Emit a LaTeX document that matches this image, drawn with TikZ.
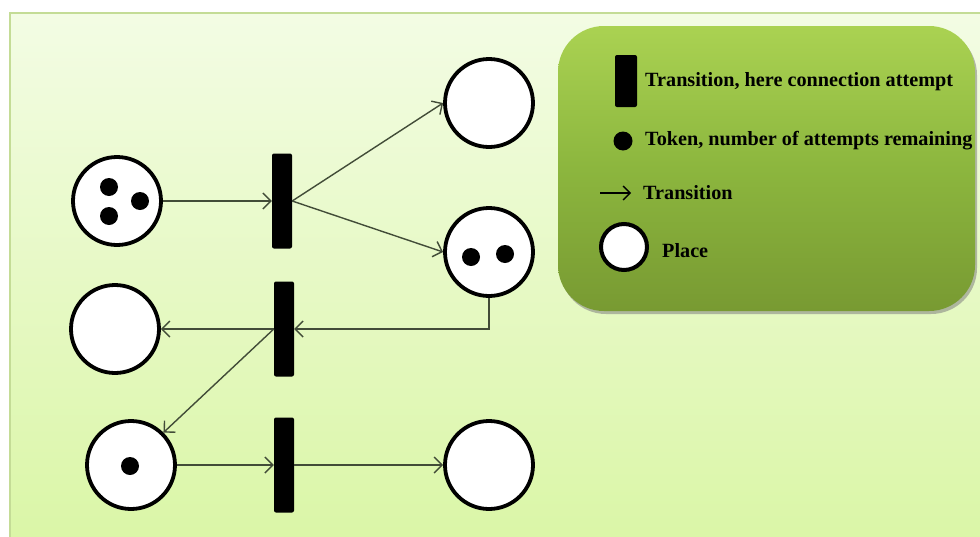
\documentclass[tikz,border=0pt]{standalone}
\usepackage{fontspec}
\setmainfont{Liberation Serif}
\usetikzlibrary{arrows.meta,shadows}
\definecolor{panelTop}{RGB}{243,252,228}
\definecolor{panelBot}{RGB}{218,246,166}
\definecolor{panelLine}{RGB}{196,220,150}
\definecolor{legTop}{RGB}{170,210,82}
\definecolor{legMid}{RGB}{140,182,62}
\definecolor{legBot}{RGB}{120,154,50}
\definecolor{arcCol}{RGB}{66,76,56}
\tikzset{
  place/.style={circle, draw=black, fill=white, line width=3.8pt, minimum size=88pt, inner sep=0pt},
  trans/.style={rectangle, fill=black, rounded corners=2pt, minimum width=20pt, minimum height=95pt, inner sep=0pt},
  token/.style={circle, fill=black, minimum size=18pt, inner sep=0pt},
  arc/.style={draw=arcCol, line width=1.4pt, -{Straight Barb[length=8pt,width=16pt,line width=1.4pt]}},
  legtext/.style={anchor=west, inner sep=0pt, font=\bfseries\fontsize{20.2}{23}\selectfont, text=black}
}
\begin{document}
\begin{tikzpicture}[x=1pt,y=-1pt]
\useasboundingbox (0,0) rectangle (980,536);
% background panel
\path[draw=panelLine, line width=2pt, top color=panelTop, bottom color=panelBot] (10,13) rectangle (992,548);
% legend box
\path[rounded corners=46pt, drop shadow={shadow xshift=2pt, shadow yshift=-3pt, opacity=0.55}, top color=legTop, bottom color=legBot, middle color=legMid] (558,26) rectangle (975,311);
% places
\node[place] (P1) at (117,201) {};
\node[place] (P2) at (489,103) {};
\node[place] (P3) at (489,252) {};
\node[place] (P4) at (115,329) {};
\node[place] (P5) at (131,465) {};
\node[place] (P6) at (489,465) {};
% transitions
\node[trans] (T1) at (282,201) {};
\node[trans] (T2) at (284,329) {};
\node[trans] (T3) at (284,465) {};
% tokens
\node[token] (k1) at (109,187) {};
\node[token] (k2) at (109,216) {};
\node[token] (k3) at (140,201) {};
\node[token] (k4) at (471,257) {};
\node[token] (k5) at (505,254) {};
\node[token] (k6) at (130,466) {};
% arcs
\draw[arc] (P1) -- (T1.west);
\draw[arc] (T1.east) -- (P2.west);
\draw[arc] (T1.east) -- (P3.west);
\draw[arc] (P3.south) |- (T2.east);
\draw[arc] (T2.west) -- (P4.east);
\draw[arc] (T2.west) -- (P5.north east);
\draw[arc] (P5.east) -- (T3.west);
\draw[arc] (T3.east) -- (P6.west);
% legend
\node[trans, minimum width=22pt, minimum height=52pt] (LT) at (626,81) {};
\node[legtext] (LTt) at (645,82) {Transition, here connection attempt};
\node[token, minimum size=19pt] (LK) at (623,141) {};
\node[legtext] (LKt) at (645,141) {Token, number of attempts remaining};
\coordinate (LAa) at (600,193);
\coordinate (LAb) at (631,193);
\draw[line width=1.3pt, -{Straight Barb[length=7pt,width=14pt,line width=1.3pt]}] (LAa) -- (LAb);
\node[legtext] (LAt) at (643,193) {Transition};
\node[place, minimum size=46pt, line width=4pt] (LP) at (624,247) {};
\node[legtext] (LPt) at (662,251) {Place};
\end{tikzpicture}
\end{document}
